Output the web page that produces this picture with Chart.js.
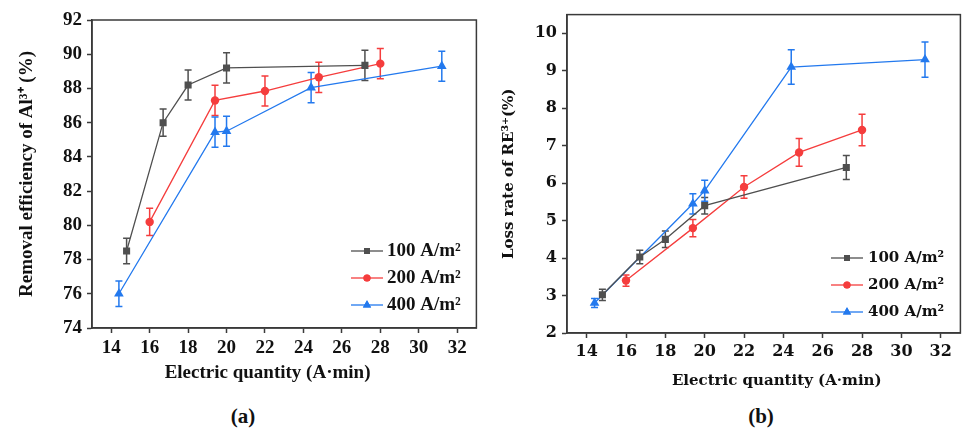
<!DOCTYPE html>
<html>
<head>
<meta charset="utf-8">
<script src="https://cdn.jsdelivr.net/npm/chart.js@4.4.1/dist/chart.umd.min.js"></script>
<style>
  html, body { margin: 0; padding: 0; background: #fff; overflow: hidden; width: 962px; height: 432px; }
  .wrap { position: absolute; }
  #wa { left: 0; top: 0; width: 482px; height: 400px; }
  #wb { left: 480px; top: 0; width: 486px; height: 400px; }
  .cap { position: absolute; top: 404px; font: bold 21px "Liberation Serif", serif; color: #111; transform: translateX(-50%); }
</style>
</head>
<body>
<div class="wrap" id="wa"><canvas id="ca"></canvas></div>
<div class="wrap" id="wb"><canvas id="cb"></canvas></div>
<div class="cap" style="left:243px">(a)</div>
<div class="cap" style="left:761px">(b)</div>
<script>
// ---- data: (a) removal efficiency of Al3+ ----
const seriesNames = ['100 A/m\u00B2', '200 A/m\u00B2', '400 A/m\u00B2'];

const aX100 = [14.8, 16.7, 18.0, 20.0, 27.2];
const aY100 = [78.5, 86.0, 88.2, 89.2, 89.35];
const aE100 = [0.75, 0.8, 0.88, 0.88, 0.88];

const aX200 = [16.0, 19.4, 22.0, 24.8, 28.0];
const aY200 = [80.2, 87.3, 87.85, 88.65, 89.45];
const aE200 = [0.8, 0.88, 0.88, 0.88, 0.88];

const aX400 = [14.4, 19.4, 20.0, 24.4, 31.2];
const aY400 = [76.0, 85.45, 85.5, 88.05, 89.3];
const aE400 = [0.75, 0.88, 0.88, 0.88, 0.88];

// ---- data: (b) loss rate of RE3+ ----
const bX100 = [14.8, 16.7, 18.0, 20.0, 27.2];
const bY100 = [3.02, 4.03, 4.5, 5.4, 6.42];
const bE100 = [0.15, 0.18, 0.22, 0.22, 0.32];

const bX200 = [16.0, 19.4, 22.0, 24.8, 28.0];
const bY200 = [3.4, 4.8, 5.9, 6.82, 7.42];
const bE200 = [0.15, 0.23, 0.3, 0.37, 0.42];

const bX400 = [14.4, 19.4, 20.0, 24.4, 31.2];
const bY400 = [2.8, 5.45, 5.8, 9.1, 9.3];
const bE400 = [0.12, 0.27, 0.28, 0.46, 0.47];

const xTicks = [14, 16, 18, 20, 22, 24, 26, 28, 30, 32];
const aYTicks = [74, 76, 78, 80, 82, 84, 86, 88, 90, 92];
const bYTicks = [2, 3, 4, 5, 6, 7, 8, 9, 10];

const xTitle = 'Electric quantity (A\u00B7min)';
const NB = '\u00A0';

const colors = ['#4f4f4f', '#f53d3d', '#2379ee'];
const shapes = ['rect', 'circle', 'triangle'];
const radii = [5, 4.2, 5.6];

function pts(xs, ys, es) {
  return xs.map((x, i) => ({ x: x, y: ys[i], err: es[i] }));
}

function makeDatasets(groups) {
  return groups.map((g, i) => ({
    label: seriesNames[i],
    data: pts(g[0], g[1], g[2]),
    showLine: true,
    borderColor: colors[i],
    backgroundColor: colors[i],
    borderWidth: 1.3,
    pointStyle: shapes[i],
    pointRadius: radii[i],
    pointBorderWidth: 0,
    pointHoverRadius: radii[i],
    tension: 0
  }));
}

// vertical error bars with caps, drawn under the markers
const errorBars = {
  id: 'errorBars',
  beforeDatasetsDraw(chart) {
    const ctx = chart.ctx;
    const ys = chart.scales.y, xs = chart.scales.x;
    chart.data.datasets.forEach((ds) => {
      ctx.save();
      ctx.strokeStyle = ds.borderColor;
      ctx.lineWidth = 1.5;
      ds.data.forEach(p => {
        const px = xs.getPixelForValue(p.x);
        const top = ys.getPixelForValue(p.y + p.err);
        const bot = ys.getPixelForValue(p.y - p.err);
        ctx.beginPath();
        ctx.moveTo(px, top); ctx.lineTo(px, bot);
        ctx.moveTo(px - 3.5, top); ctx.lineTo(px + 3.5, top);
        ctx.moveTo(px - 3.5, bot); ctx.lineTo(px + 3.5, bot);
        ctx.stroke();
      });
      ctx.restore();
    });
  }
};

// closed frame round the plotting area
const frame = {
  id: 'frame',
  afterDraw(chart) {
    const a = chart.chartArea, ctx = chart.ctx;
    ctx.save();
    ctx.strokeStyle = '#3a3a3a';
    ctx.lineWidth = 1.5;
    ctx.strokeRect(a.left, a.top, a.right - a.left, a.bottom - a.top);
    ctx.restore();
  }
};

// line + marker legend in the lower right of the plot
const sampleLegend = {
  id: 'sampleLegend',
  afterDraw(chart, args, opts) {
    const ctx = chart.ctx;
    ctx.save();
    chart.data.datasets.forEach((ds, i) => {
      const y = opts.y0 + i * opts.dy;
      ctx.strokeStyle = ds.borderColor;
      ctx.lineWidth = 1.3;
      ctx.beginPath();
      ctx.moveTo(opts.x0, y); ctx.lineTo(opts.x0 + opts.len, y);
      ctx.stroke();
      ctx.fillStyle = ds.backgroundColor;
      Chart.helpers.drawPoint(ctx, { pointStyle: ds.pointStyle, radius: ds.pointRadius * 0.85, rotation: 0, borderWidth: 0 }, opts.x0 + opts.len / 2, y);
      ctx.fill();
      ctx.fillStyle = '#111';
      ctx.font = opts.font;
      ctx.textBaseline = 'middle';
      ctx.textAlign = 'left';
      ctx.fillText(ds.label, opts.x0 + opts.len + opts.gap, y);
    });
    ctx.restore();
  }
};

function buildChart(id, cfg) {
  const font = { family: cfg.family, size: cfg.size, weight: 'bold' };
  const tfont = { family: cfg.family, size: cfg.tickSize, weight: 'bold' };
  return new Chart(document.getElementById(id), {
    type: 'scatter',
    data: { datasets: makeDatasets(cfg.groups) },
    plugins: [errorBars, frame, sampleLegend],
    options: {
      responsive: true,
      maintainAspectRatio: false,
      animation: false,
      layout: { padding: { top: cfg.padTop, right: cfg.padRight, left: 0, bottom: 0 } },
      plugins: {
        legend: { display: false },
        tooltip: { enabled: false },
        sampleLegend: cfg.legend
      },
      scales: {
        x: {
          type: 'linear', min: 13, max: 33,
          afterBuildTicks: s => { s.ticks = xTicks.map(v => ({ value: v })); },
          afterFit: s => { s.height = cfg.xAxisH; },
          ticks: { font: tfont, color: '#111', padding: 4, maxRotation: 0 },
          grid: { drawOnChartArea: false, drawTicks: true, tickLength: 5, tickColor: '#3a3a3a', tickWidth: 1.5 },
          border: { display: true, color: '#3a3a3a', width: 1.5 },
          title: { display: true, text: cfg.xTitleText, font: font, color: '#111', padding: { top: 0, bottom: cfg.xTitlePad } }
        },
        y: {
          type: 'linear', min: cfg.yMin, max: cfg.yMax,
          afterBuildTicks: s => { s.ticks = cfg.yTicks.map(v => ({ value: v })); },
          afterFit: s => { s.width = cfg.yAxisW; },
          ticks: { font: tfont, color: '#111', padding: 5 },
          grid: { drawOnChartArea: false, drawTicks: true, tickLength: 5, tickColor: '#3a3a3a', tickWidth: 1.5 },
          border: { display: true, color: '#3a3a3a', width: 1.5 },
          title: { display: true, text: cfg.yTitle, font: font, color: '#111', padding: { top: cfg.yTitlePad, bottom: 0 } }
        }
      }
    }
  });
}

buildChart('ca', {
  groups: [[aX100, aY100, aE100], [aX200, aY200, aE200], [aX400, aY400, aE400]],
  family: '"Liberation Serif", serif', size: 19, tickSize: 19,
  padTop: 20, padRight: 2, xAxisH: 72, yAxisW: 92, xTitlePad: 16, yTitlePad: 16,
  yMin: 74, yMax: 92, yTicks: aYTicks,
  xTitleText: xTitle + NB.repeat(7),
  yTitle: 'Removal efficiency of Al\u00B3\u207A (%)',
  legend: { x0: 351, y0: 251, dy: 27, len: 32, gap: 4, font: 'bold 19px "Liberation Serif", serif' }
});

buildChart('cb', {
  groups: [[bX100, bY100, bE100], [bX200, bY200, bE200], [bX400, bY400, bE400]],
  family: '"DejaVu Serif", serif', size: 15, tickSize: 16,
  padTop: 12, padRight: 2, xAxisH: 67, yAxisW: 87, xTitlePad: 10, yTitlePad: 20,
  yMin: 2, yMax: 10.5, yTicks: bYTicks,
  xTitleText: NB.repeat(5) + xTitle,
  yTitle: 'Loss rate of RE\u00B3\u207A(%)',
  legend: { x0: 351, y0: 258, dy: 27, len: 32, gap: 5, font: 'bold 15px "DejaVu Serif", serif' }
});
</script>
</body>
</html>
